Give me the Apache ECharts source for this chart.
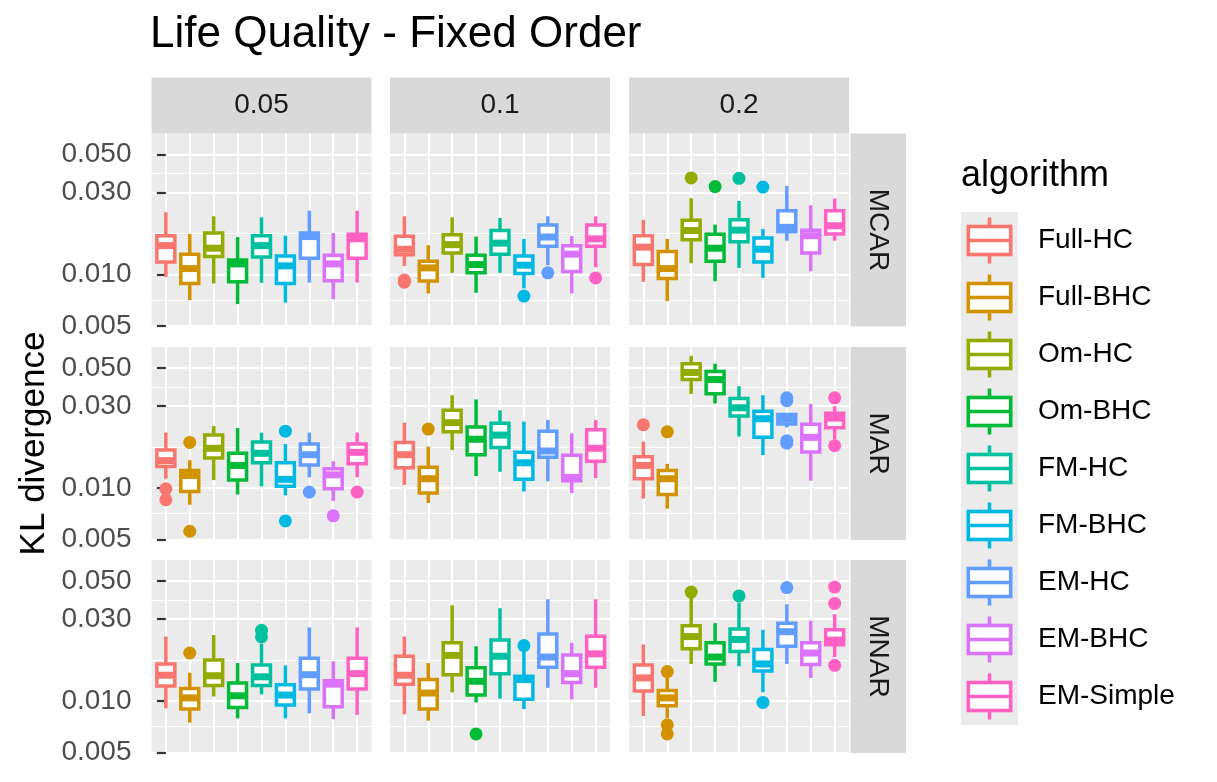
<!DOCTYPE html>
<html>
<head>
<meta charset="utf-8">
<title>Life Quality - Fixed Order</title>
<script src="https://cdn.jsdelivr.net/npm/echarts@6.0.0/dist/echarts.min.js"></script>
<style>
  html, body { margin: 0; padding: 0; background: #fff; }
  #chart { width: 1217px; height: 782px; }
</style>
</head>
<body>
<div id="chart"></div>
<script>
var algorithms = ['Full-HC', 'Full-BHC', 'Om-HC', 'Om-BHC', 'FM-HC', 'FM-BHC', 'EM-HC', 'EM-BHC', 'EM-Simple'];
var colors = ['#F8766D', '#D39200', '#93AA00', '#00BA38', '#00C19F', '#00B9E3', '#619CFF', '#DB72FB', '#FF61C3'];
var rates = ['0.05', '0.1', '0.2'];
var mechanisms = ['MCAR', 'MAR', 'MNAR'];
var majorTicks = [0.005, 0.01, 0.03, 0.05];
var minorTicks = [0.00707, 0.01732, 0.03873];

// each box: [lower whisker, Q1, median, Q3, upper whisker], one per algorithm
var boxes_mcar_005 = [
    [0.00966, 0.0118, 0.0147, 0.0168, 0.0230],
    [0.00707, 0.00884, 0.0108, 0.0131, 0.0172],
    [0.00884, 0.0127, 0.0142, 0.0174, 0.0218],
    [0.0067, 0.00904, 0.0115, 0.0121, 0.0165],
    [0.00892, 0.0126, 0.0147, 0.0168, 0.0215],
    [0.00683, 0.00884, 0.0112, 0.0128, 0.0168],
    [0.00895, 0.0124, 0.0166, 0.0174, 0.0235],
    [0.00717, 0.00916, 0.0115, 0.0129, 0.0174],
    [0.00895, 0.0124, 0.0161, 0.0171, 0.0235]
];
var boxes_mcar_01 = [
    [0.0112, 0.0130, 0.0140, 0.0167, 0.0218],
    [0.00773, 0.00915, 0.0109, 0.0119, 0.0148],
    [0.0102, 0.0133, 0.0149, 0.0170, 0.0215],
    [0.0078, 0.0102, 0.0114, 0.0129, 0.0166],
    [0.0102, 0.0131, 0.0152, 0.0180, 0.0213],
    [0.00827, 0.0101, 0.0113, 0.0128, 0.0161],
    [0.0113, 0.0146, 0.0165, 0.0194, 0.0218],
    [0.00773, 0.0104, 0.0131, 0.0147, 0.0167],
    [0.0110, 0.0146, 0.0161, 0.0194, 0.0218]
];
var boxes_mcar_02 = [
    [0.00904, 0.0114, 0.0144, 0.0168, 0.0208],
    [0.00698, 0.00944, 0.0108, 0.0136, 0.0161],
    [0.0116, 0.0159, 0.0180, 0.0207, 0.0278],
    [0.0091, 0.0119, 0.0142, 0.0171, 0.0195],
    [0.0109, 0.0155, 0.0181, 0.0208, 0.0268],
    [0.00953, 0.0118, 0.0140, 0.0163, 0.0184],
    [0.0157, 0.0177, 0.0188, 0.0235, 0.0328],
    [0.0104, 0.0133, 0.0168, 0.0181, 0.0253],
    [0.0157, 0.0172, 0.0192, 0.0235, 0.0277]
];
var boxes_mar_005 = [
    [0.0113, 0.0133, 0.0144, 0.0166, 0.0210],
    [0.00797, 0.00952, 0.0118, 0.0126, 0.0145],
    [0.0111, 0.0149, 0.0170, 0.0203, 0.0229],
    [0.00915, 0.0111, 0.0135, 0.0159, 0.0223],
    [0.0102, 0.0140, 0.0159, 0.0185, 0.0210],
    [0.00903, 0.0102, 0.0112, 0.0140, 0.0180],
    [0.0115, 0.0136, 0.0156, 0.0180, 0.0210],
    [0.00838, 0.00987, 0.0119, 0.0129, 0.0143],
    [0.0115, 0.0138, 0.0161, 0.0180, 0.0210]
];
var boxes_mar_01 = [
    [0.0104, 0.0131, 0.0156, 0.0184, 0.0240],
    [0.00816, 0.00932, 0.0113, 0.0132, 0.0174],
    [0.0166, 0.0212, 0.0240, 0.0283, 0.0347],
    [0.0117, 0.0156, 0.0192, 0.0226, 0.0328],
    [0.0124, 0.0172, 0.0203, 0.0238, 0.0283],
    [0.00952, 0.0112, 0.0140, 0.0161, 0.0243],
    [0.0109, 0.0151, 0.0164, 0.0214, 0.0249],
    [0.00932, 0.0110, 0.0115, 0.0155, 0.0208],
    [0.0114, 0.0143, 0.0170, 0.0218, 0.0249]
];
var boxes_mar_02 = [
    [0.00864, 0.0113, 0.0135, 0.0152, 0.0186],
    [0.00756, 0.00915, 0.0113, 0.0126, 0.0138],
    [0.0353, 0.0428, 0.0471, 0.0530, 0.0589],
    [0.0310, 0.0354, 0.0428, 0.0477, 0.0530],
    [0.0199, 0.0262, 0.0293, 0.0332, 0.0391],
    [0.0155, 0.0197, 0.0253, 0.0280, 0.0347],
    [0.0225, 0.0236, 0.0252, 0.0268, 0.0270],
    [0.0110, 0.0162, 0.0197, 0.0235, 0.0309],
    [0.0192, 0.0224, 0.0255, 0.0272, 0.0299]
];
var boxes_mnar_005 = [
    [0.00903, 0.0122, 0.0141, 0.0164, 0.0237],
    [0.00746, 0.00895, 0.0104, 0.0118, 0.0146],
    [0.0106, 0.0123, 0.0140, 0.0173, 0.0242],
    [0.0079, 0.00915, 0.0107, 0.0127, 0.0166],
    [0.0109, 0.0123, 0.0138, 0.0162, 0.0215],
    [0.0079, 0.00944, 0.0108, 0.0124, 0.0161],
    [0.00845, 0.0117, 0.0142, 0.0177, 0.0268],
    [0.0078, 0.00923, 0.0125, 0.0131, 0.0170],
    [0.00827, 0.0117, 0.0144, 0.0177, 0.0268]
];
var boxes_mnar_01 = [
    [0.00833, 0.0125, 0.0141, 0.0182, 0.0237],
    [0.00766, 0.00895, 0.0111, 0.0133, 0.0166],
    [0.0112, 0.0142, 0.0184, 0.0218, 0.0361],
    [0.00978, 0.0108, 0.0130, 0.0156, 0.0208],
    [0.0103, 0.0144, 0.0182, 0.0226, 0.0347],
    [0.00895, 0.0102, 0.0133, 0.0139, 0.0195],
    [0.0119, 0.0157, 0.0180, 0.0245, 0.0391],
    [0.0102, 0.0128, 0.0144, 0.0185, 0.0218],
    [0.0119, 0.0157, 0.0188, 0.0238, 0.0391]
];
var boxes_mnar_02 = [
    [0.00816, 0.0114, 0.0136, 0.0162, 0.0213],
    [0.00790, 0.00936, 0.0104, 0.0115, 0.0141],
    [0.0164, 0.0201, 0.0237, 0.0274, 0.0400],
    [0.0129, 0.0164, 0.0180, 0.0218, 0.0284],
    [0.0159, 0.0194, 0.0228, 0.0262, 0.0374],
    [0.0112, 0.0149, 0.0164, 0.0199, 0.0260],
    [0.0164, 0.0208, 0.0253, 0.0283, 0.0366],
    [0.0136, 0.0163, 0.0190, 0.0218, 0.0293],
    [0.0180, 0.0212, 0.0226, 0.0260, 0.0320]
];

// outliers: [algorithm index, value]
var out_mcar_005 = [];
var out_mcar_01 = [[0, 0.00925], [0, 0.0090], [5, 0.00746], [6, 0.0102], [8, 0.00953]];
var out_mcar_02 = [[2, 0.0365], [3, 0.0325], [4, 0.0363], [5, 0.0323]];
var out_mar_005 = [[0, 0.00987], [0, 0.00852], [1, 0.0184], [1, 0.00558], [5, 0.0214], [5, 0.00641],
    [6, 0.00944], [7, 0.00686], [8, 0.00944]];
var out_mar_01 = [[1, 0.0220]];
var out_mar_02 = [[0, 0.0233], [1, 0.0212], [6, 0.0335], [6, 0.0322], [6, 0.0188], [6, 0.0182],
    [8, 0.0335], [8, 0.0176]];
var out_mnar_005 = [[1, 0.0190], [4, 0.0258], [4, 0.0236]];
var out_mnar_01 = [[3, 0.00641], [5, 0.0210]];
var out_mnar_02 = [[1, 0.0148], [1, 0.00723], [1, 0.00641], [2, 0.0431], [4, 0.0409], [5, 0.00978],
    [6, 0.0458], [8, 0.0461], [8, 0.0370], [8, 0.0161]];

var panels = [
    [boxes_mcar_005, out_mcar_005], [boxes_mcar_01, out_mcar_01], [boxes_mcar_02, out_mcar_02],
    [boxes_mar_005, out_mar_005], [boxes_mar_01, out_mar_01], [boxes_mar_02, out_mar_02],
    [boxes_mnar_005, out_mnar_005], [boxes_mnar_01, out_mnar_01], [boxes_mnar_02, out_mnar_02]
];

var font = "'Liberation Sans', Arial, Helvetica, sans-serif";
var panelLeft = [151.5, 390, 629];
var panelTop = [133.5, 347, 560];
var panelW = 220, panelH = 193;
var yMin = 0.00496, yMax = 0.0663;
var categoryTicks = algorithms.map(function (a, i) { return i; });

var chart = echarts.init(document.getElementById('chart'));

function renderBox(params, api) {
    var x = api.value(0);
    var lo = api.coord([x, api.value(1)]);
    var q1 = api.coord([x, api.value(2)]);
    var md = api.coord([x, api.value(3)]);
    var q3 = api.coord([x, api.value(4)]);
    var hi = api.coord([x, api.value(5)]);
    var half = api.coord([x + 0.375, api.value(3)])[0] - md[0];
    var c = colors[x];
    return {
        type: 'group',
        children: [
            { type: 'line', shape: { x1: md[0], y1: hi[1], x2: md[0], y2: q3[1] }, style: { stroke: c, lineWidth: 3.5 } },
            { type: 'line', shape: { x1: md[0], y1: q1[1], x2: md[0], y2: lo[1] }, style: { stroke: c, lineWidth: 3.5 } },
            { type: 'rect', shape: { x: md[0] - half, y: q3[1], width: 2 * half, height: q1[1] - q3[1] },
              style: { fill: '#ffffff', stroke: c, lineWidth: 3.5 } },
            { type: 'line', shape: { x1: md[0] - half, y1: md[1], x2: md[0] + half, y2: md[1] }, style: { stroke: c, lineWidth: 7 } }
        ]
    };
}

function keyIcon(c) {
    var svg = '<svg xmlns="http://www.w3.org/2000/svg" width="72" height="57" viewBox="0 0 72 57">' +
        '<rect x="0" y="0" width="57" height="57" fill="#EBEBEB"/>' +
        '<g stroke="' + c + '" stroke-width="3.6" fill="none">' +
        '<line x1="28.5" y1="5.5" x2="28.5" y2="14.5"/>' +
        '<line x1="28.5" y1="42.5" x2="28.5" y2="51.5"/>' +
        '<rect x="7.3" y="14.5" width="42.4" height="28" fill="#ffffff"/>' +
        '<line x1="7.3" y1="28.5" x2="49.7" y2="28.5"/>' +
        '</g></svg>';
    return 'image://data:image/svg+xml;charset=utf-8,' + encodeURIComponent(svg);
}

var grids = [], xAxes = [], yAxes = [], series = [];
panels.forEach(function (p, k) {
    var r = Math.floor(k / 3), col = k % 3;
    grids.push({
        left: panelLeft[col], top: panelTop[r], width: panelW, height: panelH,
        show: true, backgroundColor: '#EBEBEB', borderWidth: 0
    });
    xAxes.push({
        type: 'value', gridIndex: k, min: -0.6, max: 8.6,
        axisLine: { show: false }, axisLabel: { show: false },
        axisTick: { show: false, customValues: categoryTicks },
        splitLine: { show: true, lineStyle: { color: '#ffffff', width: 2.2 } }
    });
    yAxes.push({
        type: 'log', logBase: 10, gridIndex: k, min: yMin, max: yMax, position: 'left',
        axisLine: { show: false },
        axisTick: { show: col === 0, length: 9, customValues: majorTicks, lineStyle: { color: '#333333', width: 2.2 } },
        axisLabel: {
            show: col === 0, customValues: majorTicks, margin: 20,
            fontSize: 28, color: '#4D4D4D', fontFamily: font,
            formatter: function (v) { return Number(v).toFixed(3); }
        },
        splitLine: { show: true, lineStyle: { color: '#ffffff', width: 2.2 } }
    });
    yAxes.push({
        type: 'log', logBase: 10, gridIndex: k, min: yMin, max: yMax, position: 'left',
        axisLine: { show: false }, axisLabel: { show: false },
        axisTick: { show: false, customValues: minorTicks },
        splitLine: { show: true, lineStyle: { color: '#ffffff', width: 1.1 } }
    });
    algorithms.forEach(function (name, a) {
        series.push({
            type: 'custom', name: name, xAxisIndex: k, yAxisIndex: 2 * k,
            renderItem: renderBox, encode: { x: 0, y: [1, 2, 3, 4, 5] },
            itemStyle: { color: colors[a] }, silent: true, z: 3,
            data: [[a].concat(p[0][a])]
        });
        var pts = p[1].filter(function (o) { return o[0] === a; });
        if (pts.length) {
            series.push({
                type: 'scatter', name: name, xAxisIndex: k, yAxisIndex: 2 * k,
                symbolSize: 13, itemStyle: { color: colors[a], opacity: 1 }, silent: true, z: 4,
                data: pts
            });
        }
    });
});

var graphics = [
    { type: 'text', x: 150, y: 35, style: { text: 'Life Quality - Fixed Order', fontSize: 44, fontFamily: font, fill: '#000000',
        textAlign: 'left', textVerticalAlign: 'middle', align: 'left', verticalAlign: 'middle' } },
    { type: 'text', x: 34, y: 443.5, rotation: Math.PI / 2, style: { text: 'KL divergence', fontSize: 35, fontFamily: font, fill: '#000000',
        textAlign: 'center', textVerticalAlign: 'middle', align: 'center', verticalAlign: 'middle' } },
    { type: 'text', x: 961, y: 176, style: { text: 'algorithm', fontSize: 36, fontFamily: font, fill: '#000000',
        textAlign: 'left', textVerticalAlign: 'middle', align: 'left', verticalAlign: 'middle' } }
];
rates.forEach(function (t, c) {
    graphics.push({ type: 'rect', shape: { x: panelLeft[c], y: 77.5, width: panelW, height: 56 }, style: { fill: '#D9D9D9' } });
    graphics.push({ type: 'text', x: panelLeft[c] + panelW / 2, y: 105.5, style: { text: t, fontSize: 28, fontFamily: font, fill: '#1A1A1A',
        textAlign: 'center', textVerticalAlign: 'middle', align: 'center', verticalAlign: 'middle' } });
});
mechanisms.forEach(function (t, r) {
    graphics.push({ type: 'rect', shape: { x: 850.5, y: panelTop[r], width: 55.5, height: panelH }, style: { fill: '#D9D9D9' } });
    graphics.push({ type: 'text', x: 878, y: panelTop[r] + panelH / 2, rotation: -Math.PI / 2, style: { text: t, fontSize: 28, fontFamily: font, fill: '#1A1A1A',
        textAlign: 'center', textVerticalAlign: 'middle', align: 'center', verticalAlign: 'middle' } });
});

var option = {
    animation: false,
    backgroundColor: '#ffffff',
    grid: grids,
    xAxis: xAxes,
    yAxis: yAxes,
    legend: {
        orient: 'vertical', left: 961, top: 212, padding: 0,
        itemWidth: 72, itemHeight: 57, itemGap: 0, selectedMode: false,
        textStyle: { fontSize: 28, color: '#000000', fontFamily: font },
        data: algorithms.map(function (a, i) { return { name: a, icon: keyIcon(colors[i]) }; })
    },
    graphic: graphics,
    series: series
};
chart.setOption(option);
</script>
</body>
</html>
